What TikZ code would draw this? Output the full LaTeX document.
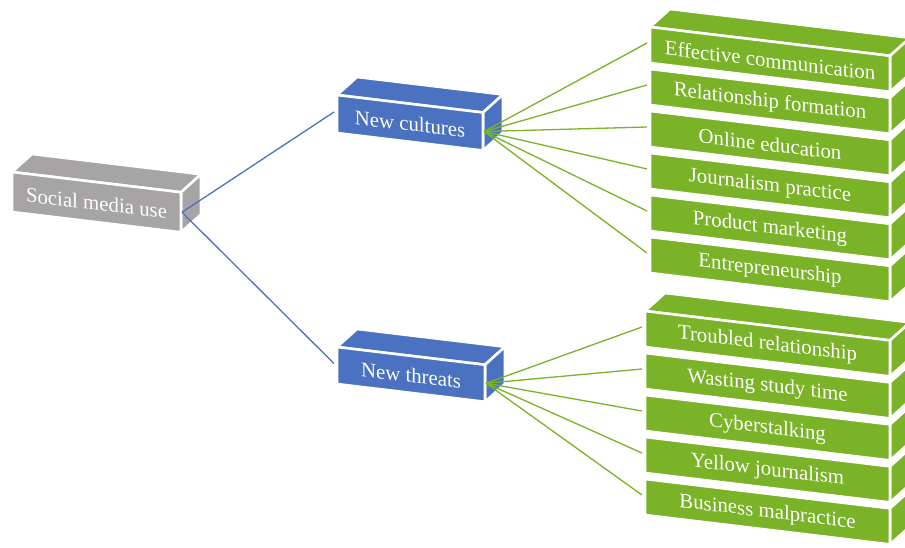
\documentclass[tikz,border=0pt]{standalone}
\usepackage{fontspec}
\setmainfont{Liberation Serif}
\definecolor{smgray}{RGB}{166,164,164}
\definecolor{cublue}{RGB}{74,114,192}
\definecolor{leafgreen}{RGB}{122,178,40}
\tikzset{
  face/.style={line width=2.6pt, draw=white, line join=round},
  lbl/.style={text=white, font=\fontsize{20.8}{22}\selectfont, yslant=-0.12, inner sep=0pt},
  blueline/.style={draw=cublue, line width=1.3pt},
  greenline/.style={draw=leafgreen, line width=1.3pt}
}
% #1 name, #2 x, #3 y, #4 width, #5 height, #6 colour, #7 text, #8 draw top face (1/0)
\newcommand{\cub}[8]{%
  \ifnum#8=1
    \path[fill=#6, face] (#2,#3) -- ++(20,-18) -- ++(#4,{0.12*#4}) -- ++(-20,18) -- cycle;
  \fi
  \path[fill=#6, face] ({#2+#4},{#3+0.12*#4}) -- ++(20,-18) -- ++(0,#5) -- ++(-20,18) -- cycle;
  \path[fill=#6, face] (#2,#3) -- ++(#4,{0.12*#4}) -- ++(0,#5) -- ++(-#4,{-0.12*#4}) -- cycle;
  \node[lbl] (#1) at ({#2+#4/2},{#3+0.06*#4+#5/2+1}) {#7};
  \coordinate (#1-w) at ({#2-3},{#3+#5/2-2});
  \coordinate (#1-e) at ({#2+#4+1},{#3+0.12*#4+#5/2});
}
\begin{document}
\begin{tikzpicture}[x=1pt,y=-1pt]
\useasboundingbox (0,0) rectangle (905,548);
\clip (0,0) rectangle (905,548);
% main boxes
\cub{sm}{12}{172}{169}{40}{smgray}{Social media use}{1}
\cub{nc}{337}{95}{146}{38}{cublue}{New cultures}{1}
\cub{nt}{337}{347}{148}{37}{cublue}{New threats}{1}
% culture stack
\cub{c1}{650}{27}{240}{36}{leafgreen}{Effective communication}{1}
\cub{c2}{650}{69}{240}{36}{leafgreen}{Relationship formation}{0}
\cub{c3}{650}{111}{240}{36}{leafgreen}{Online education}{0}
\cub{c4}{650}{153}{240}{36}{leafgreen}{Journalism practice}{0}
\cub{c5}{650}{195}{240}{36}{leafgreen}{Product marketing}{0}
\cub{c6}{650}{237}{240}{36}{leafgreen}{Entrepreneurship}{0}
% threat stack
\cub{t1}{645}{311}{245}{36}{leafgreen}{Troubled relationship}{1}
\cub{t2}{645}{353}{245}{36}{leafgreen}{Wasting study time}{0}
\cub{t3}{645}{395}{245}{36}{leafgreen}{Cyberstalking}{0}
\cub{t4}{645}{437}{245}{36}{leafgreen}{Yellow journalism}{0}
\cub{t5}{645}{479}{245}{36}{leafgreen}{Business malpractice}{0}
% connectors
\draw[blueline] (sm-e) -- (nc-w);
\draw[blueline] (sm-e) -- (nt-w);
\foreach \k in {c1,c2,c3,c4,c5,c6}{\draw[greenline] (nc-e) -- (\k-w);}
\foreach \k in {t1,t2,t3,t4,t5}{\draw[greenline] (nt-e) -- (\k-w);}
\end{tikzpicture}
\end{document}
